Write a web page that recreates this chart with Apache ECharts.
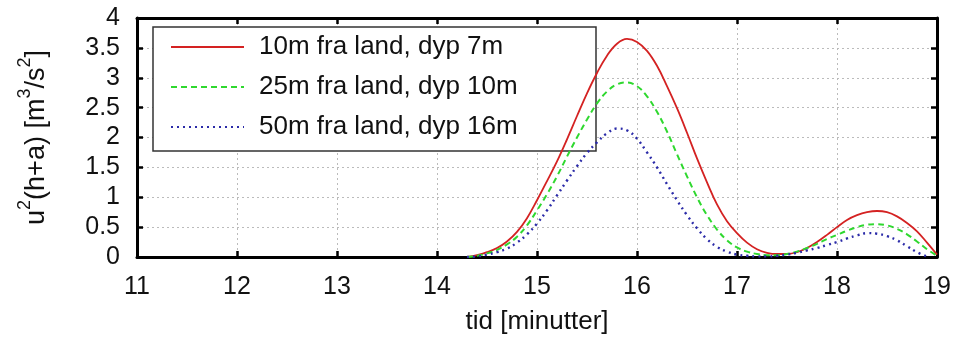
<!DOCTYPE html>
<html>
<head>
<meta charset="utf-8">
<script src="https://cdn.jsdelivr.net/npm/echarts@6/dist/echarts.min.js"></script>
<style>
html,body{margin:0;padding:0;background:#fff;}
#chart{width:955px;height:340px;}
</style>
</head>
<body>
<div id="chart"></div>
<script>
// time in minutes
const times = [14.3,14.4,14.5,14.6,14.7,14.8,14.9,15.0,15.1,15.2,15.3,15.4,15.5,15.6,15.7,15.8,15.9,16.0,16.1,16.2,16.3,16.4,16.5,16.6,16.7,16.8,16.9,17.0,17.1,17.2,17.3,17.4,17.5,17.6,17.7,17.8,17.9,18.0,18.1,18.2,18.3,18.4,18.5,18.6,18.7,18.8,18.9,19.0];
const seriesNames = ['10m fra land, dyp 7m', '25m fra land, dyp 10m', '50m fra land, dyp 16m'];
const red = [0,0.03,0.08,0.15,0.26,0.42,0.65,0.95,1.27,1.6,1.97,2.36,2.74,3.08,3.37,3.57,3.65,3.6,3.45,3.2,2.86,2.49,2.08,1.65,1.25,0.88,0.6,0.4,0.24,0.13,0.07,0.05,0.05,0.08,0.15,0.25,0.37,0.5,0.62,0.7,0.75,0.77,0.75,0.68,0.57,0.43,0.24,0.04];
const green = [0,0.02,0.06,0.12,0.21,0.34,0.53,0.78,1.05,1.35,1.68,2.0,2.3,2.57,2.77,2.89,2.92,2.86,2.69,2.43,2.1,1.72,1.35,1.0,0.7,0.46,0.28,0.16,0.09,0.05,0.03,0.03,0.05,0.09,0.15,0.22,0.3,0.37,0.44,0.5,0.54,0.55,0.53,0.47,0.38,0.26,0.13,0.02];
const blue = [0,0.01,0.04,0.08,0.14,0.24,0.38,0.56,0.78,1.03,1.28,1.52,1.74,1.92,2.07,2.15,2.12,1.98,1.75,1.5,1.22,0.95,0.7,0.48,0.3,0.17,0.09,0.04,0.02,0.01,0.01,0.02,0.04,0.07,0.11,0.15,0.2,0.25,0.31,0.36,0.4,0.39,0.35,0.28,0.18,0.08,0.01,null];
const xTicks = [11,12,13,14,15,16,17,18,19];
const yTicks = [0,0.5,1,1.5,2,2.5,3,3.5,4];

const pairs = arr => times.map((t,i) => [t, arr[i]]);
const FONT = 'Liberation Sans, Arial, sans-serif';
const frame = {show:true, onZero:false, lineStyle:{color:'#000', width:3}};
const tick = {show:true, inside:true, length:6, lineStyle:{color:'#000', width:2.5}};
const split = {show:true, lineStyle:{color:'#bbb', width:1, type:[2,3]}};

const chart = echarts.init(document.getElementById('chart'));
chart.setOption({
  animation:false,
  backgroundColor:'#fff',
  grid:{left:137, right:18, top:18, bottom:82, containLabel:false},
  legend:{
    orient:'vertical', left:153, top:27, z:1,
    data:seriesNames,
    padding:[6,17,10,17], itemGap:12, itemWidth:73, itemHeight:20,
    borderColor:'#333', borderWidth:1.5, backgroundColor:'#fff',
    itemStyle:{color:'transparent', borderWidth:0, opacity:0},
    formatter: n => '{w|' + n + '}',
    textStyle:{fontFamily:FONT, fontSize:26, color:'#111', lineHeight:28,
      rich:{w:{fontFamily:FONT, fontSize:26, color:'#111', lineHeight:28, width:320, padding:[0,0,0,10]}}}
  },
  xAxis:[
    {type:'value', position:'bottom', min:xTicks[0], max:xTicks[xTicks.length-1], interval:1,
     axisLine:frame, axisTick:tick, splitLine:split,
     axisLabel:{fontFamily:FONT, fontSize:25, color:'#111', margin:18},
     name:'tid [minutter]', nameLocation:'middle', nameGap:52,
     nameTextStyle:{fontFamily:FONT, fontSize:26, color:'#111'}},
    {type:'value', position:'top', min:xTicks[0], max:xTicks[xTicks.length-1], interval:1,
     axisLine:frame, axisTick:tick, splitLine:{show:false}, axisLabel:{show:false}}
  ],
  yAxis:[
    {type:'value', position:'left', min:yTicks[0], max:yTicks[yTicks.length-1], interval:0.5,
     axisLine:frame, axisTick:tick, splitLine:split,
     axisLabel:{fontFamily:FONT, fontSize:25, color:'#111', margin:17},
     name:'{a|u}{s|2}{a|(h+a) [m}{s|3}{a|/s}{s|2}{a|]}', nameLocation:'middle', nameGap:87,
     nameTextStyle:{fontFamily:FONT, fontSize:26, color:'#111',
       rich:{a:{fontFamily:FONT, fontSize:27, color:'#111', lineHeight:34, verticalAlign:'bottom'},
             s:{fontFamily:FONT, fontSize:18, color:'#111', lineHeight:34, verticalAlign:'top'}}}},
    {type:'value', position:'right', min:yTicks[0], max:yTicks[yTicks.length-1], interval:0.5,
     axisLine:frame, axisTick:tick, splitLine:{show:false}, axisLabel:{show:false}}
  ],
  series:[
    {name:seriesNames[0], type:'line', data:pairs(red), showSymbol:false, symbol:'none', smooth:0.4,
     lineStyle:{color:'#d42222', width:1.8, type:'solid'}, itemStyle:{color:'#d42222'}},
    {name:seriesNames[1], type:'line', data:pairs(green), showSymbol:false, symbol:'none', smooth:0.4,
     lineStyle:{color:'#2fd82f', width:2, type:[6,4]}, itemStyle:{color:'#2fd82f'}},
    {name:seriesNames[2], type:'line', data:pairs(blue), showSymbol:false, symbol:'none', smooth:0.4, connectNulls:false,
     lineStyle:{color:'#2b2ba8', width:2.4, type:[2,4]}, itemStyle:{color:'#2b2ba8'}}
  ]
});
</script>
</body>
</html>
